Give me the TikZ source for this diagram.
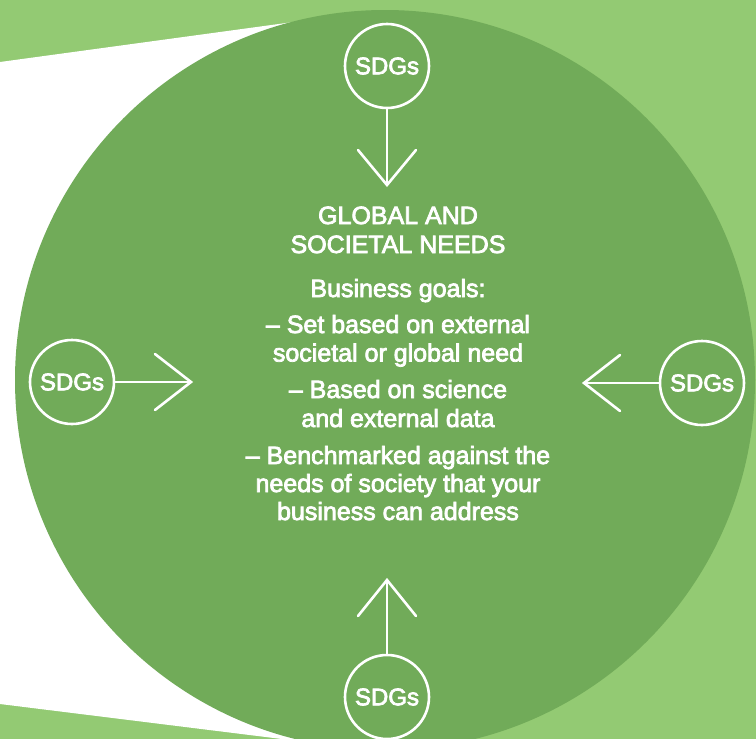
\documentclass[tikz,border=0pt]{standalone}
\usepackage{fontspec}
\setmainfont{Liberation Sans}
\newfontfamily\medfont[FakeBold=3]{Liberation Sans}
\usetikzlibrary{calc}
\definecolor{lightg}{HTML}{93CA73}
\definecolor{darkg}{HTML}{71AB59}
\begin{document}
\begin{tikzpicture}[x=1pt,y=-1pt,
  sdg/.style={circle,draw=white,line width=2.6pt,minimum size=84pt,inner sep=0pt,
    text=white,font=\medfont\fontsize{24}{24}\selectfont},
  arr/.style={draw=white,line width=2.6pt,line cap=round,line join=miter},
  txt/.style={text=white,anchor=base,inner sep=0pt,font=\medfont\fontsize{25}{25}\selectfont}]
\useasboundingbox (0,0) rectangle (756,739);
\fill[lightg] (0,0) rectangle (756,739);
\fill[white] (0,62) -- (330,17) -- (330,745) -- (0,704) -- cycle;
\fill[darkg] (385,380) circle (370pt);

% SDG nodes
\node[sdg] (top) at (387,66) {SDGs};
\node[sdg] (bot) at (387,697) {SDGs};
\node[sdg] (lft) at (72,382) {SDGs};
\node[sdg] (rgt) at (702,383) {SDGs};

% tips
\coordinate (ttip) at (387,185);
\coordinate (btip) at (387,580);
\coordinate (ltip) at (191,382);
\coordinate (rtip) at (584,383);

\draw[arr] (top.south) -- (ttip);
\draw[arr] ($(ttip)+(-29,-35)$) -- (ttip) -- ($(ttip)+(29,-35)$);
\draw[arr] (bot.north) -- (btip);
\draw[arr] ($(btip)+(-29,36)$) -- (btip) -- ($(btip)+(29,36)$);
\draw[arr] (lft.east) -- (ltip);
\draw[arr] ($(ltip)+(-36,-28)$) -- (ltip) -- ($(ltip)+(-36,28)$);
\draw[arr] (rgt.west) -- (rtip);
\draw[arr] ($(rtip)+(36,-28)$) -- (rtip) -- ($(rtip)+(36,28)$);

% central text
\node[txt] (t1) at (398,224) {GLOBAL AND};
\node[txt] (t2) at (398,253) {SOCIETAL NEEDS};
\node[txt] (t3) at (398,297) {Business goals:};
\node[txt] (t4) at (398,333) {– Set based on external};
\node[txt] (t5) at (398,361.5) {societal or global need};
\node[txt] (t6) at (398,398) {– Based on science};
\node[txt] (t7) at (398,427) {and external data};
\node[txt] (t8) at (398,464) {– Benchmarked against the};
\node[txt] (t9) at (398,492) {needs of society that your};
\node[txt] (t10) at (398,520) {business can address};
\end{tikzpicture}
\end{document}
